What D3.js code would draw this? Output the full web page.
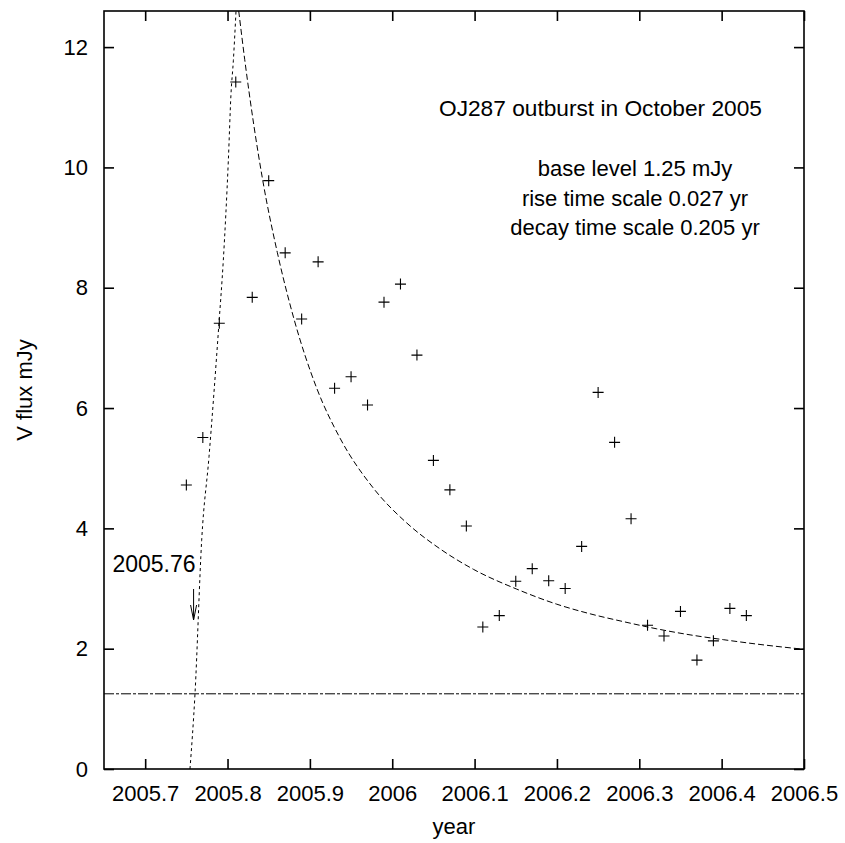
<!DOCTYPE html>
<html>
<head>
<meta charset="utf-8">
<script src="https://cdn.jsdelivr.net/npm/d3@7"></script>
<style>
  body { margin: 0; background: #fff; }
  text { font-family: "Liberation Sans", Arial, Helvetica, sans-serif; fill: #000; }
</style>
</head>
<body>
<div id="chart"></div>
<script>
// observation epochs (yr) and V flux (mJy)
var obsYear = [2005.75, 2005.77, 2005.79, 2005.81, 2005.83, 2005.85, 2005.87, 2005.89, 2005.91,
  2005.93, 2005.95, 2005.97, 2005.99, 2006.01, 2006.03, 2006.05, 2006.07, 2006.09, 2006.11,
  2006.13, 2006.15, 2006.17, 2006.19, 2006.21, 2006.23, 2006.25, 2006.27, 2006.29, 2006.31,
  2006.33, 2006.35, 2006.37, 2006.39, 2006.41, 2006.43];
var obsFlux = [4.72, 5.51, 7.41, 11.42, 7.84, 9.78, 8.58, 7.48, 8.43,
  6.33, 6.52, 6.05, 7.76, 8.06, 6.88, 5.13, 4.64, 4.04, 2.36,
  2.55, 3.12, 3.33, 3.13, 3.00, 3.70, 6.26, 5.43, 4.16, 2.39,
  2.21, 2.62, 1.81, 2.13, 2.67, 2.55];

// rise curve
var riseYear = [2005.7544, 2005.7605, 2005.7686, 2005.7775, 2005.7896, 2005.7949, 2005.8010, 2005.8042, 2005.8071, 2005.8103];
var riseFlux = [0, 1.25, 3.80, 5.19, 7.41, 8.46, 10.12, 11.22, 11.78, 12.6];

// decay curve
var decayYear = [2005.8136, 2005.8209, 2005.8427, 2005.8604, 2005.8807, 2005.9083, 2005.9366, 2005.9770,
  2006.0176, 2006.0580, 2006.0985, 2006.1512, 2006.1997, 2006.2402, 2006.2806, 2006.3212,
  2006.3616, 2006.4020, 2006.4466, 2006.5];
var decayFlux = [12.6, 11.79, 9.79, 8.59, 7.48, 6.33, 5.50, 4.67,
  4.09, 3.66, 3.32, 2.99, 2.74, 2.58, 2.45, 2.33,
  2.23, 2.15, 2.07, 1.99];

var baseLevel = 1.25;
var markerYear = 2005.76;

var xTicks = [2005.7, 2005.8, 2005.9, 2006.0, 2006.1, 2006.2, 2006.3, 2006.4, 2006.5];
var xTickLabels = ["2005.7", "2005.8", "2005.9", "2006", "2006.1", "2006.2", "2006.3", "2006.4", "2006.5"];
var yTicks = [0, 2, 4, 6, 8, 10, 12];

var infoLines = ["base level 1.25 mJy", "rise time scale 0.027 yr", "decay time scale 0.205 yr"];

var width = 845, height = 843;
var margin = {top: 11, right: 41, bottom: 74, left: 104};
var w = width - margin.left - margin.right,
    h = height - margin.top - margin.bottom;

var svg = d3.select("#chart").append("svg")
    .attr("width", width)
    .attr("height", height);

var g = svg.append("g")
    .attr("transform", "translate(" + margin.left + "," + margin.top + ")");

var x = d3.scaleLinear().domain([2005.65, 2006.5]).range([0, w]);
var y = d3.scaleLinear().domain([0, 12.6]).range([h, 0]);

g.append("clipPath").attr("id", "clip")
  .append("rect").attr("width", w).attr("height", h);

// axes, ticks pointing inward on all four sides
var fmtX = function(d, i) { return xTickLabels[i]; };

var axB = g.append("g")
    .attr("transform", "translate(0," + h + ")")
    .call(d3.axisBottom(x).tickValues(xTicks).tickFormat(fmtX)
      .tickSizeInner(-10).tickSizeOuter(0).tickPadding(16));
var axT = g.append("g")
    .call(d3.axisTop(x).tickValues(xTicks).tickFormat("")
      .tickSizeInner(-10).tickSizeOuter(0));
var axL = g.append("g")
    .call(d3.axisLeft(y).tickValues(yTicks)
      .tickSizeInner(-10).tickSizeOuter(0).tickPadding(16));
var axR = g.append("g")
    .attr("transform", "translate(" + w + ",0)")
    .call(d3.axisRight(y).tickValues(yTicks).tickFormat("")
      .tickSizeInner(-10).tickSizeOuter(0));

[axB, axT, axL, axR].forEach(function(a) {
  a.select(".domain").remove();
  a.selectAll("line").attr("stroke", "#000").attr("stroke-width", 1.6);
  a.selectAll("text").style("font-size", "22px")
    .style("font-family", "'Liberation Sans', Arial, sans-serif").attr("fill", "#000");
});

g.append("rect")
    .attr("width", w).attr("height", h)
    .attr("fill", "none").attr("stroke", "#000").attr("stroke-width", 1.6);

var plot = g.append("g").attr("clip-path", "url(#clip)");

// base level
plot.append("line")
    .attr("x1", 0).attr("x2", w)
    .attr("y1", y(baseLevel)).attr("y2", y(baseLevel))
    .attr("stroke", "#000").attr("stroke-width", 1)
    .attr("stroke-dasharray", "10,2,3,2");

var line = d3.line()
    .x(function(d) { return x(d[0]); })
    .y(function(d) { return y(d[1]); })
    .curve(d3.curveMonotoneX);

plot.append("path")
    .datum(d3.zip(riseYear, riseFlux))
    .attr("d", line)
    .attr("fill", "none").attr("stroke", "#000").attr("stroke-width", 1)
    .attr("stroke-dasharray", "3,3");

plot.append("path")
    .datum(d3.zip(decayYear, decayFlux))
    .attr("d", line)
    .attr("fill", "none").attr("stroke", "#000").attr("stroke-width", 1)
    .attr("stroke-dasharray", "6,3");

// data points as crosses
plot.selectAll(".pt")
  .data(d3.zip(obsYear, obsFlux))
  .enter().append("path")
    .attr("class", "pt")
    .attr("d", function(d) {
      var cx = x(d[0]), cy = y(d[1]), s = 5.5;
      return "M" + (cx - s) + "," + cy + "H" + (cx + s) + "M" + cx + "," + (cy - s) + "V" + (cy + s);
    })
    .attr("stroke", "#000").attr("stroke-width", 1.1).attr("fill", "none");

// marker for onset
var mx = x(markerYear);
g.append("text")
    .attr("x", mx + 1).attr("y", 561)
    .attr("text-anchor", "end")
    .style("font-size", "23px")
    .text("2005.76");
g.append("line")
    .attr("x1", mx - 1).attr("x2", mx - 1)
    .attr("y1", 578).attr("y2", 608)
    .attr("stroke", "#000").attr("stroke-width", 1);
g.append("path")
    .attr("d", "M" + (mx - 4) + ",594L" + (mx - 1) + ",609L" + (mx + 2) + ",594")
    .attr("fill", "none").attr("stroke", "#000").attr("stroke-width", 1);

// annotation text
svg.append("text")
    .attr("x", 439).attr("y", 116)
    .style("font-size", "22.7px")
    .text("OJ287 outburst in October 2005");

svg.selectAll(".info")
  .data(infoLines)
  .enter().append("text")
    .attr("class", "info")
    .attr("x", 635)
    .attr("y", function(d, i) { return 176 + i * 29.5; })
    .attr("text-anchor", "middle")
    .style("font-size", "22px")
    .text(function(d) { return d; });

// axis titles
svg.append("text")
    .attr("x", margin.left + w / 2).attr("y", 834)
    .attr("text-anchor", "middle")
    .style("font-size", "22px")
    .text("year");

svg.append("text")
    .attr("transform", "translate(32," + (margin.top + h / 2) + ") rotate(-90)")
    .attr("text-anchor", "middle")
    .style("font-size", "22px")
    .text("V flux mJy");
</script>
</body>
</html>
